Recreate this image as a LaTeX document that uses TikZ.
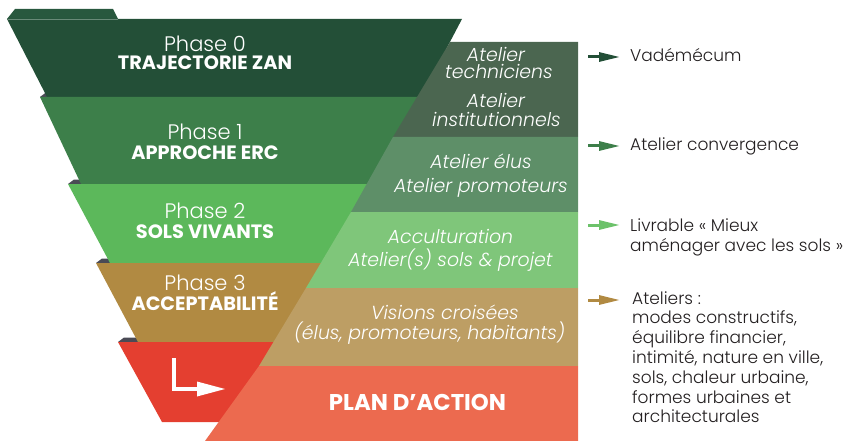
\documentclass[tikz,border=0pt]{standalone}
\usepackage{fontspec}
\setmainfont{Poppins}
\newfontfamily\lightf{Poppins Light}
\newfontfamily\lightit{Poppins Light Italic}
\usetikzlibrary{arrows.meta}
\definecolor{ph0}{HTML}{234F37}
\definecolor{ph0tab}{HTML}{28583E}
\definecolor{ph1}{HTML}{3D7F4A}
\definecolor{ph2}{HTML}{5CB85B}
\definecolor{ph3}{HTML}{B18A42}
\definecolor{phr}{HTML}{E43F30}
\definecolor{wedge}{HTML}{4A4A55}
\definecolor{pa}{HTML}{4B6650}
\definecolor{pb}{HTML}{5E8F68}
\definecolor{pc}{HTML}{7FC67A}
\definecolor{pd}{HTML}{BD9E64}
\definecolor{pe}{HTML}{EC6A4F}
\definecolor{ink}{HTML}{231F20}
\definecolor{ar3}{HTML}{6CC26A}
\tikzset{
  phasetitle/.style={anchor=base, inner sep=0pt, text=white, font=\lightf\fontsize{21}{21}\selectfont},
  phasename/.style={anchor=base, inner sep=0pt, text=white, font=\bfseries\fontsize{19.3}{19.3}\selectfont},
  atel/.style={anchor=base, inner sep=0pt, text=white, font=\lightit\fontsize{18.9}{18.9}\selectfont},
  sidetext/.style={anchor=base west, inner sep=0pt, text=ink, font=\lightf\fontsize{17}{17}\selectfont},
  sidearrow/.style={line width=3pt, -{Triangle[length=21pt,width=9pt]}},
}
\begin{document}
\begin{tikzpicture}[x=1pt,y=-1pt]
\useasboundingbox (0,0) rectangle (846,441);
% wedges (behind the bands)
\fill[wedge] (40,97) -- (46,92.5) -- (90,92.5) -- (90,97) -- cycle;
\fill[wedge] (68,184) -- (74,179.5) -- (120,179.5) -- (120,184) -- cycle;
\fill[wedge] (96,263) -- (102,258.5) -- (150,258.5) -- (150,263) -- cycle;
\fill[wedge] (118,342) -- (124,337.5) -- (170,337.5) -- (170,342) -- cycle;
% phase 0 tab
\fill[ph0tab] (7,19) -- (15,9) -- (113,9) -- (118,19) -- cycle;
% bands
\fill[ph0] (7,19) -- (462,19) -- (421,97) -- (47,97) -- cycle;
\draw[ph0tab!70!white, line width=0.6pt] (7.5,19.3) -- (117.5,19.3);
\fill[ph1] (40,97) -- (440,97) -- (392,184) -- (81,184) -- cycle;
\fill[ph2] (68,184) -- (392,184) -- (345,263) -- (110,263) -- cycle;
\fill[ph3] (96,263) -- (345,263) -- (300,342) -- (138,342) -- cycle;
\fill[phr] (118,342) -- (320,342) -- (226,422) -- (162,422) -- cycle;
% panels
\fill[pa] (450,42) -- (578,42) -- (578,137) -- (393,137) -- cycle;
\fill[pb] (393,137) -- (578,137) -- (578,212) -- (351,212) -- cycle;
\fill[pc] (351,212) -- (578,212) -- (578,288) -- (306,288) -- cycle;
\fill[pd] (306,288) -- (578,288) -- (578,366) -- (259,366) -- cycle;
\fill[pe] (259,366) -- (578,366) -- (578,441) -- (205,441) -- cycle;
% phase labels
\node[phasetitle] (p0a) at (205,52) {Phase 0};
\node[phasename] (p0b) at (205,70) {TRAJECTORIE ZAN};
\node[phasetitle] (p1a) at (205,140) {Phase 1};
\node[phasename] (p1b) at (205,160) {APPROCHE ERC};
\node[phasetitle] (p2a) at (205,218) {Phase 2};
\node[phasename] (p2b) at (205,238) {SOLS VIVANTS};
\node[phasetitle] (p3a) at (205,290.5) {Phase 3};
\node[phasename] (p3b) at (205,310.5) {ACCEPTABILITÉ};
% red icon
\coordinate (ic1) at (174,358);
\coordinate (ic2) at (174,389);
\coordinate (ic3) at (225,389);
\draw[white, line width=3.5pt] (ic1) -- (ic2) -- ([xshift=-26pt]ic3);
\fill[white] (197,381.5) -- (ic3) -- (197,396.5) -- cycle;
% atelier labels
\node[atel] (a1) at (496,61.5) {Atelier};
\node[atel] (a2) at (499,79) {techniciens};
\node[atel] (a3) at (496,108) {Atelier};
\node[atel] (a4) at (496.5,126.5) {institutionnels};
\node[atel] (a5) at (481,168) {Atelier élus};
\node[atel] (a6) at (481,192) {Atelier promoteurs};
\node[atel] (a7) at (450.5,243) {Acculturation};
\node[atel] (a8) at (450.5,266.5) {Atelier(s) sols \& projet};
\node[atel] (a9) at (445,319) {Visions croisées};
\node[atel] (a10) at (429.5,339) {(élus, promoteurs, habitants)};
\node[phasename, font=\bfseries\fontsize{22.8}{22.8}\selectfont] (plan) at (417.5,410) {PLAN D’ACTION};
% side arrows
\coordinate (s1) at (588,57); \coordinate (e1) at (620,57);
\coordinate (s2) at (588,146); \coordinate (e2) at (620,146);
\coordinate (s3) at (588,225); \coordinate (e3) at (620,225);
\coordinate (s4) at (588,300); \coordinate (e4) at (620,300);
\draw[sidearrow, ph0] (s1) -- (e1);
\draw[sidearrow, ph1] (s2) -- (e2);
\draw[sidearrow, ar3] (s3) -- (e3);
\draw[sidearrow, ph3] (s4) -- (e4);
% side texts
\node[sidetext] (t1) at (630,61.5) {Vadémécum};
\node[sidetext] (t2) at (630,150.5) {Atelier convergence};
\node[sidetext] (t3a) at (630,231) {Livrable « Mieux};
\node[sidetext] (t3b) at (630,251.5) {aménager avec les sols »};
\node[sidetext] (t4a) at (632,304) {Ateliers :};
\node[sidetext] (t4b) at (632,323.8) {modes constructifs,};
\node[sidetext] (t4c) at (632,343.6) {équilibre financier,};
\node[sidetext] (t4d) at (632,363.4) {intimité, nature en ville,};
\node[sidetext] (t4e) at (632,383.2) {sols, chaleur urbaine,};
\node[sidetext] (t4f) at (632,403) {formes urbaines et};
\node[sidetext] (t4g) at (632,422.8) {architecturales};
\end{tikzpicture}
\end{document}
